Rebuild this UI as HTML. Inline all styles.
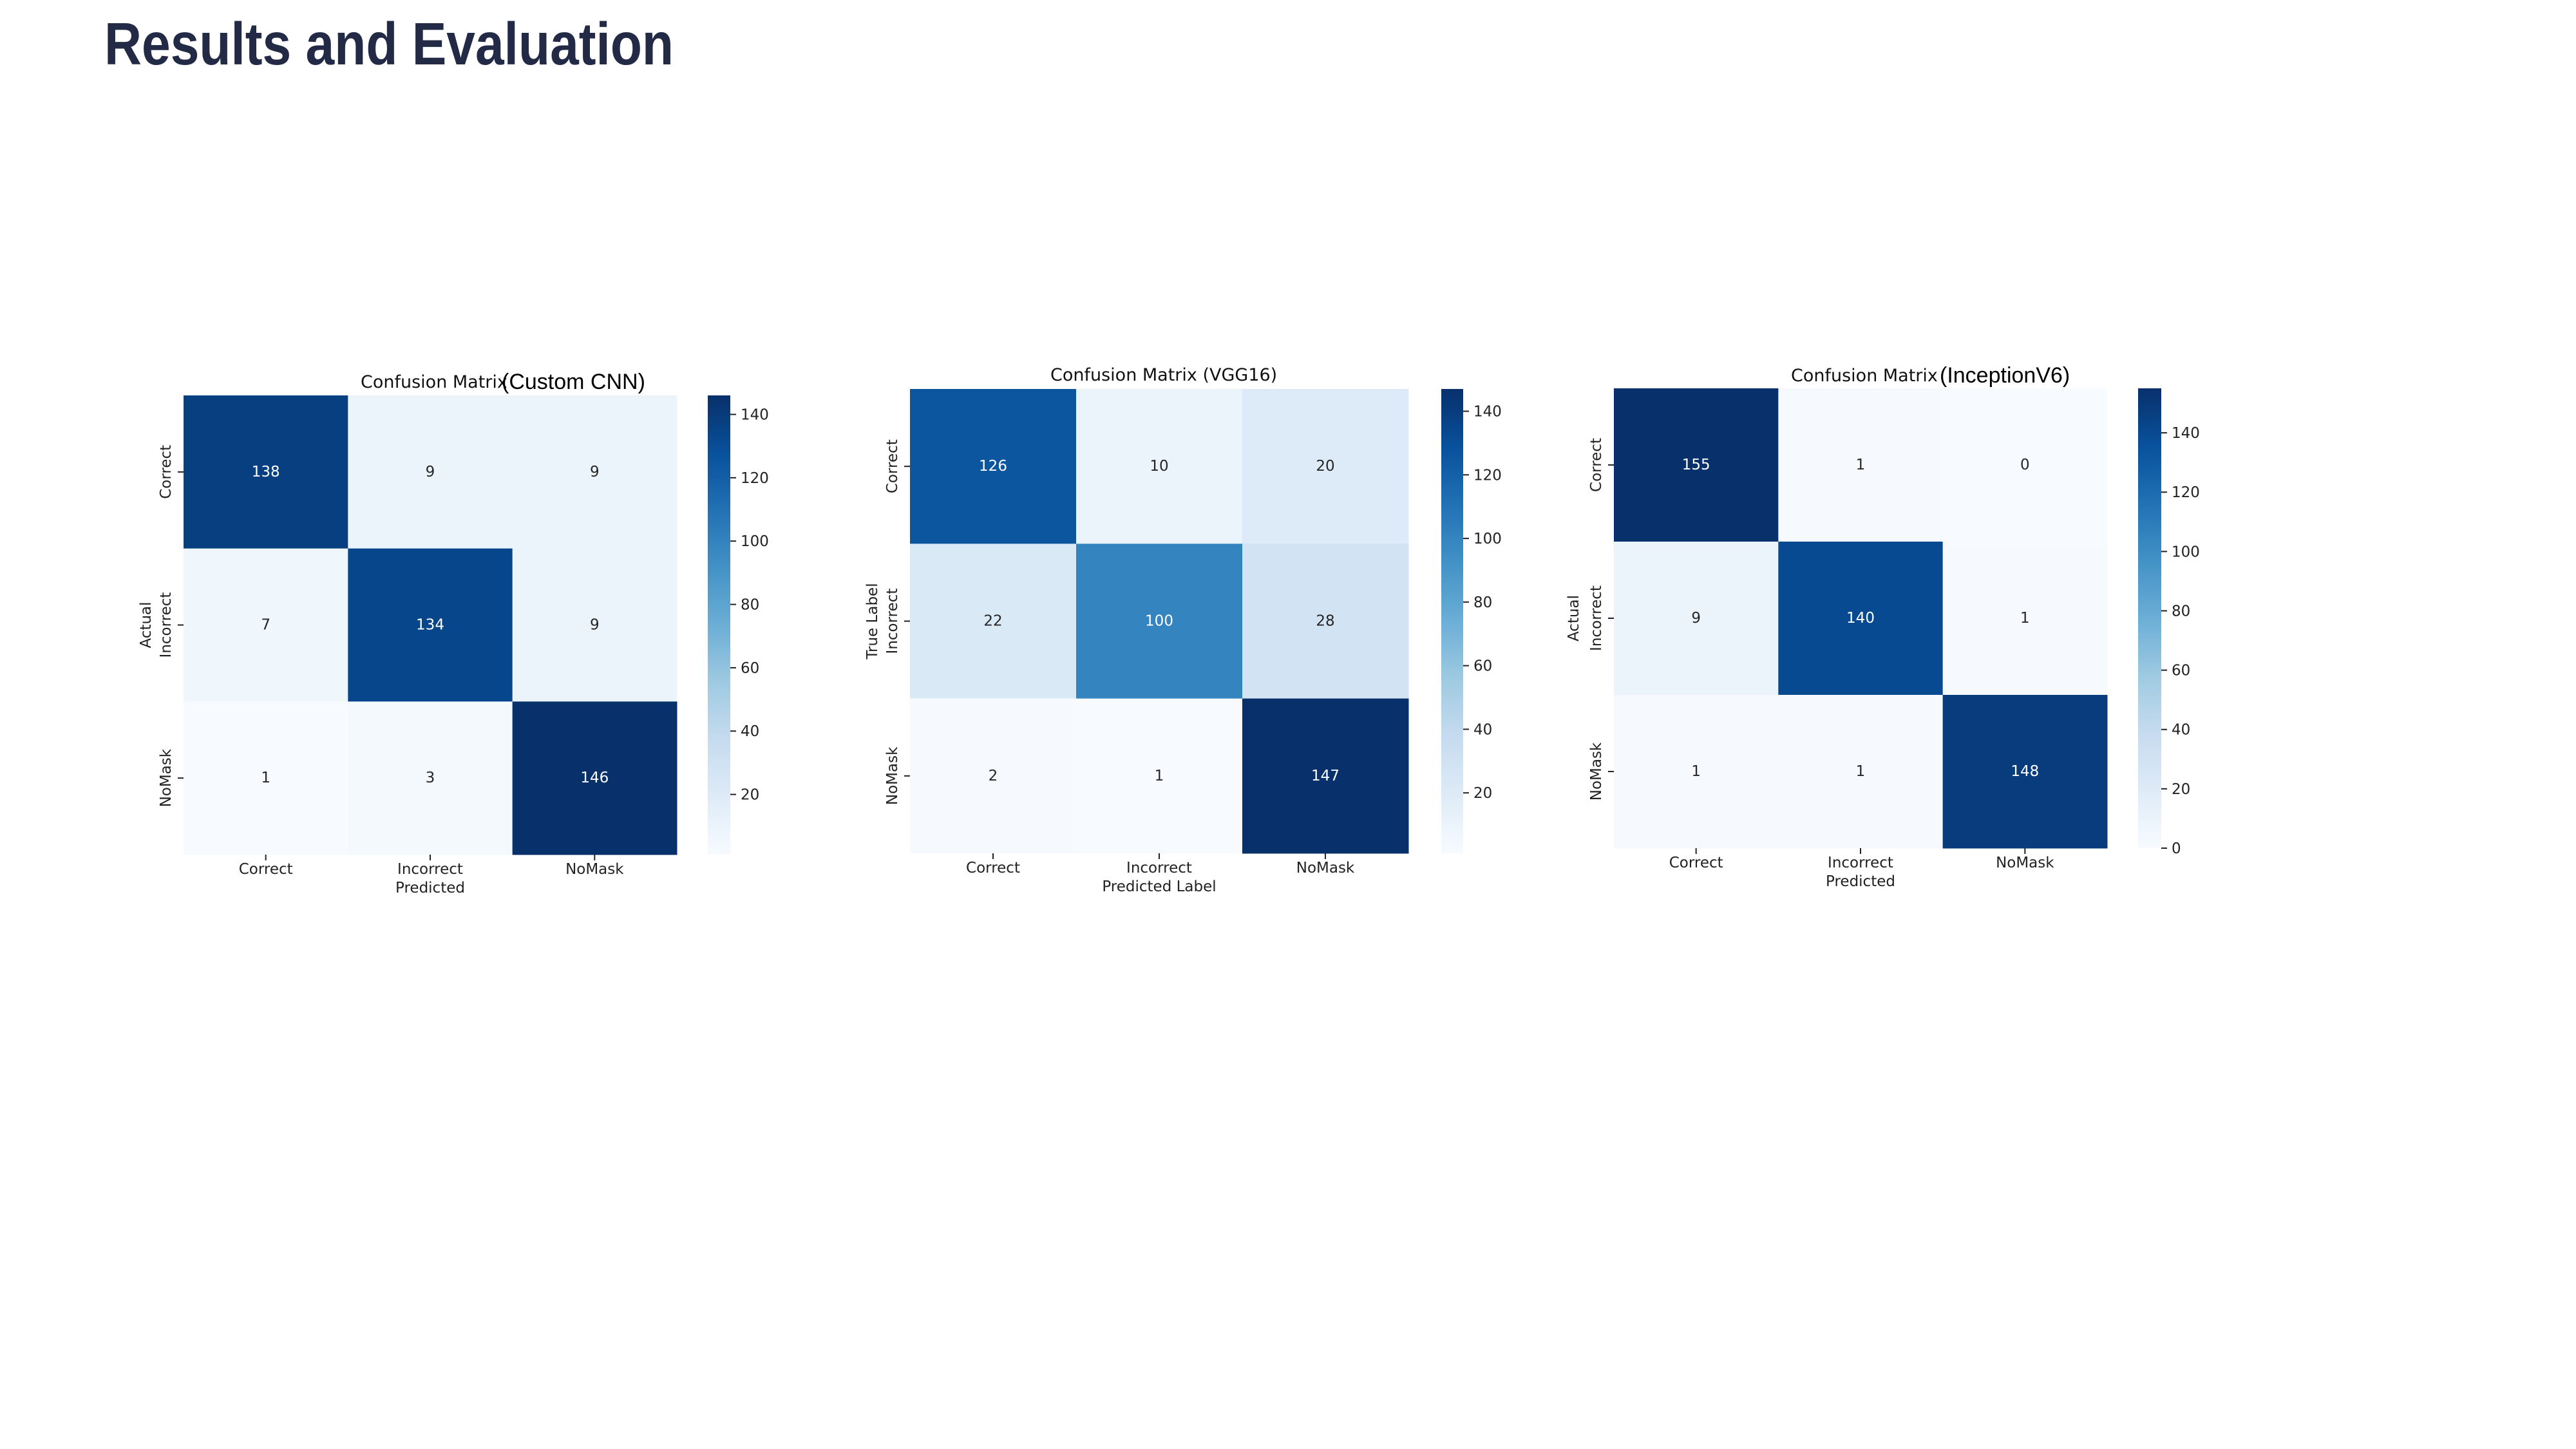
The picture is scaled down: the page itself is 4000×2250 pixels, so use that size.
<!DOCTYPE html>
<html><head><meta charset="utf-8"><style>
html,body{margin:0;padding:0;background:#fff;}
svg{display:block;}
text{font-family:"DejaVu Sans","Liberation Sans",sans-serif;}
</style></head><body>
<svg id="root" width="4000" height="2250" viewBox="0 0 4000 2250" xmlns="http://www.w3.org/2000/svg">
<rect width="4000" height="2250" fill="#fff"/>
<text x="162" y="100" font-size="93" font-weight="bold" fill="#222a45" textLength="884" lengthAdjust="spacingAndGlyphs" style="font-family:'Liberation Sans',sans-serif">Results and Evaluation</text>
<g id="charts"></g>
</svg>
<script>
const categories = ["Correct", "Incorrect", "NoMask"];
const cnnValues = [[138, 9, 9], [7, 134, 9], [1, 3, 146]];
const vggValues = [[126, 10, 20], [22, 100, 28], [2, 1, 147]];
const incValues = [[155, 1, 0], [9, 140, 1], [1, 1, 148]];
const cnnTicks = [20, 40, 60, 80, 100, 120, 140];
const vggTicks = [20, 40, 60, 80, 100, 120, 140];
const incTicks = [0, 20, 40, 60, 80, 100, 120, 140];
const titleMain = ["Confusion Matrix", "Confusion Matrix (VGG16)", "Confusion Matrix"];
const titleExtra = ["(Custom CNN)", "", "(InceptionV6)"];
const yTitles = ["Actual", "True Label", "Actual"];
const xTitles = ["Predicted", "Predicted Label", "Predicted"];

const NS = "http://www.w3.org/2000/svg";
const stops = ["#f7fbff","#deebf7","#c6dbef","#9ecae1","#6baed6","#4292c6","#2171b5","#08519c","#08306b"];
function hex(c){return [1,3,5].map(i=>parseInt(c.substr(i,2),16));}
function blues(t){
  t=Math.max(0,Math.min(1,t));
  const p=t*(stops.length-1), i=Math.min(Math.floor(p),stops.length-2), f=p-i;
  const a=hex(stops[i]), b=hex(stops[i+1]);
  return "rgb("+a.map((v,k)=>Math.round(v+(b[k]-v)*f)).join(",")+")";
}
function mk(tag, attrs, parent, txt){
  const e=document.createElementNS(NS,tag);
  for(const k in attrs) e.setAttribute(k,attrs[k]);
  if(txt!==undefined) e.textContent=txt;
  parent.appendChild(e);
  return e;
}
const root=document.getElementById("charts");
const layouts=[
  {L:285,R:1051,T:614,B:1327,cbL:1099,cbR:1134,tx:[560,779],ty:602,yl:226},
  {L:1413,R:2187,T:604,B:1325,cbL:2238,cbR:2272,tx:[1631],ty:591,yl:1354},
  {L:2506,R:3272,T:603,B:1317,cbL:3320,cbR:3356,tx:[2781,3012],ty:592,yl:2443}
];
const datasets=[cnnValues,vggValues,incValues];
const tickSets=[cnnTicks,vggTicks,incTicks];
const chartNames=["custom-cnn","vgg16","inceptionv6"];

datasets.forEach((vals,ci)=>{
  const Ly=layouts[ci];
  const g=mk("g",{},root);
  
  
  const flat=vals.flat();
  const vmin=Math.min(...flat), vmax=Math.max(...flat);
  const n=categories.length;
  const cw=(Ly.R-Ly.L)/n, ch=(Ly.B-Ly.T)/n;
  const xScale=j=>Ly.L+j*cw;
  const yScale=i=>Ly.T+i*ch;
  const cScale=v=>(v-vmin)/(vmax-vmin);
  vals.forEach((row,i)=>row.forEach((v,j)=>{
    const r=mk("rect",{x:xScale(j),y:yScale(i),width:cw+0.5,height:ch+0.5,fill:blues(cScale(v))},g);
    
    
    const t=mk("text",{x:xScale(j)+cw/2,y:yScale(i)+ch/2+7,"font-size":23,"text-anchor":"middle",fill:cScale(v)>0.5?"#ffffff":"#262626"},g,String(v));
    
    
  }));
  categories.forEach((c,k)=>{
    const cx=xScale(k)+cw/2;
    mk("line",{x1:cx,x2:cx,y1:Ly.B,y2:Ly.B+9,stroke:"#222","stroke-width":2},g);
    const xt=mk("text",{x:cx,y:Ly.B+30,"font-size":23,"text-anchor":"middle",fill:"#222"},g,c);
    
    
    const cy=yScale(k)+ch/2;
    mk("line",{x1:Ly.L-9,x2:Ly.L,y1:cy,y2:cy,stroke:"#222","stroke-width":2},g);
    const yt=mk("text",{x:0,y:0,"font-size":23,"text-anchor":"middle",fill:"#222",transform:"translate("+(Ly.L-20)+","+cy+") rotate(-90)"},g,c);
    
    
  });
  const xtl=mk("text",{x:(Ly.L+Ly.R)/2,y:Ly.B+59,"font-size":23,"text-anchor":"middle",fill:"#222"},g,xTitles[ci]);
  
  
  const ytl=mk("text",{x:0,y:0,"font-size":23,"text-anchor":"middle",fill:"#222",transform:"translate("+(Ly.yl+8)+","+((Ly.T+Ly.B)/2)+") rotate(-90)"},g,yTitles[ci]);
  
  
  const t1=mk("text",{x:Ly.tx[0],y:Ly.ty,"font-size":27,fill:"#111"},g,titleMain[ci]);
  
  
  if(titleExtra[ci]){
    const t2=mk("text",{x:Ly.tx[1],y:Ly.ty+2,"font-size":34,fill:"#000",style:"font-family:'Liberation Sans',sans-serif"},g,titleExtra[ci]);
    
    
  }
  const gid="cbg"+ci;
  const defs=mk("defs",{},g);
  const lg=mk("linearGradient",{id:gid,x1:0,y1:1,x2:0,y2:0},defs);
  stops.forEach((s,k)=>mk("stop",{offset:k/(stops.length-1),"stop-color":s},lg));
  const cb=mk("rect",{x:Ly.cbL,y:Ly.T,width:Ly.cbR-Ly.cbL,height:Ly.B-Ly.T,fill:"url(#"+gid+")"},g);
  
  
  const cbY=v=>Ly.B-(v-vmin)/(vmax-vmin)*(Ly.B-Ly.T);
  tickSets[ci].forEach(tv=>{
    const y=cbY(tv);
    mk("line",{x1:Ly.cbR,x2:Ly.cbR+9,y1:y,y2:y,stroke:"#222","stroke-width":2},g);
    const ct=mk("text",{x:Ly.cbR+16,y:y+8,"font-size":23,fill:"#222"},g,String(tv));
    
    
  });
});
</script>
</body></html>
